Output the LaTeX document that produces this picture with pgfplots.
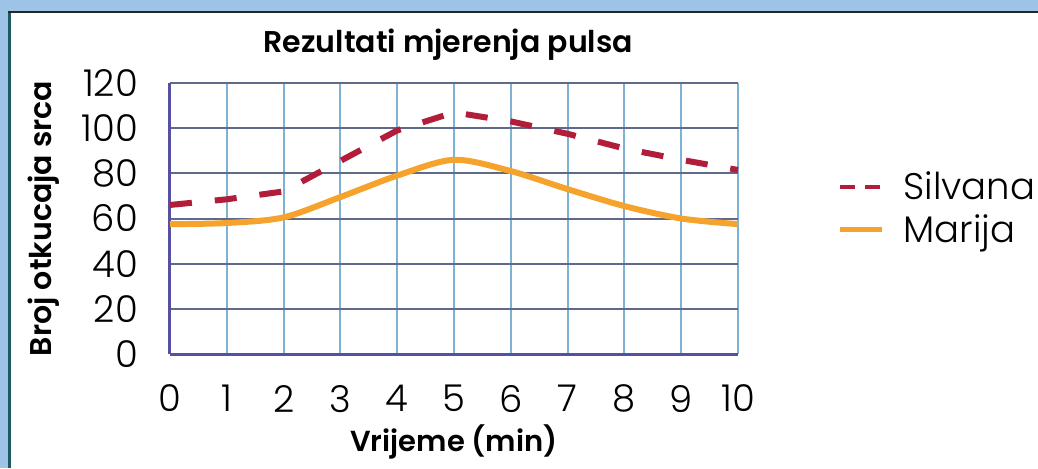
\documentclass[border=0pt]{standalone}
\usepackage{fontspec}
\setmainfont{Poppins}
\IfFontExistsTF{Poppins Light}{\newfontfamily\lightfont{Poppins Light}}{\newcommand\lightfont{}}
\IfFontExistsTF{Poppins SemiBold}{\newfontfamily\sbfont{Poppins SemiBold}}{\newcommand\sbfont{\bfseries}}
\usepackage{pgfplots}
\pgfplotsset{compat=1.18}
\definecolor{frameblue}{RGB}{157,195,230}
\definecolor{frameteal}{RGB}{30,90,95}
\definecolor{silvred}{RGB}{178,30,58}
\definecolor{marorange}{RGB}{246,163,45}
\definecolor{hgrid}{RGB}{95,105,140}
\definecolor{vgrid}{RGB}{125,178,212}
\definecolor{axiscol}{RGB}{85,80,160}
\newcommand\PX[2]{({((#1)-170)*0.5pt},{(354-(#2))*0.5pt})}
\begin{document}
\begin{tikzpicture}
\useasboundingbox \PX{0}{0} rectangle \PX{1038}{468};
\fill[frameblue] \PX{0}{0} rectangle \PX{1038}{468};
\fill[white] \PX{9}{12} rectangle \PX{1038}{468};
\draw[frameteal, line width=1.5pt] \PX{9.5}{12} -- \PX{9.5}{468};
\draw[black!85, line width=1pt] \PX{8}{12} -- \PX{1038}{12};
\begin{axis}[
  at={(0pt,0pt)}, anchor=south west,
  scale only axis,
  width=284pt, height=135.5pt,
  xmin=0, xmax=10, ymin=0, ymax=120,
  xtick={0,1,...,10}, ytick={0,20,...,120},
  axis x line*=bottom, axis y line*=left,
  axis line style={-, axiscol, line width=1.5pt},
  major tick length=0pt,
  grid=major,
  x grid style={vgrid, line width=1pt},
  y grid style={hgrid, line width=1pt},
  tick label style={font=\lightfont\fontsize{18.5}{20}\selectfont},
  /pgf/number format/assume math mode=true,
  yticklabel shift=12.5pt,
  xticklabel shift=12pt,
  title={\sbfont Rezultati mjerenja pulsa},
  title style={font=\fontsize{15}{17}\selectfont, at={(0.49,1)}, anchor=south, yshift=2pt},
  xlabel={\sbfont Vrijeme (min)},
  xlabel style={font=\fontsize{14.5}{16}\selectfont, yshift=1pt},
  ylabel={\sbfont Broj otkucaja srca},
  ylabel style={font=\fontsize{15}{17}\selectfont, yshift=4pt},
  legend style={at={(1.165,0.705)}, anchor=north west, draw=none, fill=none,
    font=\lightfont\fontsize{18.5}{20}\selectfont, row sep=2pt,
    /tikz/every odd column/.append style={column sep=7.5pt}},
  legend cell align=left,
  clip=false,
]
\addplot[silvred, line width=3pt, dash pattern=on 11pt off 11.5pt, line join=round,
  legend image code/.code={\draw[silvred, line width=2.2pt, dash pattern=on 7.5pt off 5pt] (0pt,0pt) -- (21pt,0pt);}]
  coordinates {(0,66) (1,68.5) (2,72) (3,85.5) (4,99) (5,107) (6,103) (7,97.5) (8,91) (9,86) (10,81.5)};
\addlegendentry{Silvana}
\addplot[marorange, line width=3pt, smooth, tension=0.5,
  legend image code/.code={\draw[marorange, line width=2.2pt] (0pt,0pt) -- (21pt,0pt);}]
  coordinates {(0,57.5) (1,58) (2,60.5) (3,69.5) (4,79) (5,86) (6,81) (7,73) (8,65.5) (9,60) (10,57.5)};
\addlegendentry{Marija}
\end{axis}
\end{tikzpicture}
\end{document}
